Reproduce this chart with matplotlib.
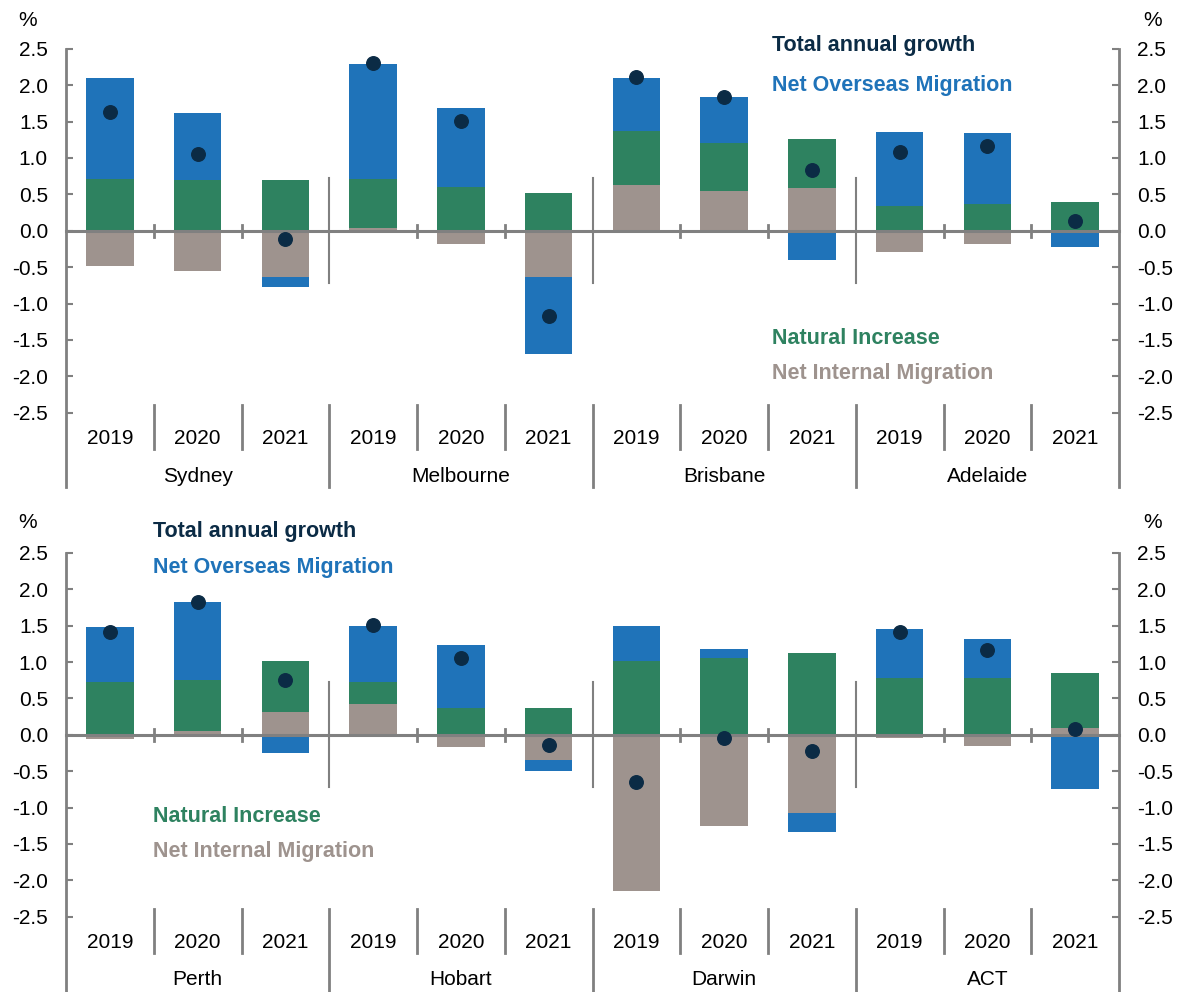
import matplotlib
matplotlib.use("Agg")
import matplotlib.pyplot as plt
import numpy as np

plt.rcParams['font.family'] = ['Liberation Sans', 'DejaVu Sans']

years = ["2019", "2020", "2021"]
cities_top = ["Sydney", "Melbourne", "Brisbane", "Adelaide"]
cities_bottom = ["Perth", "Hobart", "Darwin", "ACT"]

# components, % of population (order: city x year)
nim_top = [-0.48, -0.56, -0.64, 0.04, -0.18, -0.64, 0.63, 0.55, 0.58, -0.29, -0.18, 0.0]
ni_top = [0.71, 0.69, 0.69, 0.67, 0.60, 0.52, 0.74, 0.66, 0.68, 0.34, 0.36, 0.39]
nom_top = [1.39, 0.92, -0.13, 1.58, 1.09, -1.06, 0.73, 0.62, -0.40, 1.02, 0.98, -0.23]
total_top = [1.63, 1.05, -0.12, 2.31, 1.51, -1.17, 2.11, 1.84, 0.84, 1.08, 1.16, 0.13]

nim_bottom = [-0.06, 0.05, 0.31, 0.42, -0.17, -0.34, -2.15, -1.25, -1.07, -0.04, -0.15, 0.10]
ni_bottom = [0.72, 0.70, 0.70, 0.30, 0.37, 0.37, 1.02, 1.05, 1.13, 0.78, 0.78, 0.75]
nom_bottom = [0.76, 1.08, -0.25, 0.78, 0.86, -0.16, 0.48, 0.13, -0.27, 0.67, 0.54, -0.74]
total_bottom = [1.41, 1.82, 0.76, 1.51, 1.06, -0.14, -0.65, -0.05, -0.22, 1.41, 1.17, 0.08]

C_NOM = "#1f73b9"
C_NI = "#2e8260"
C_NIM = "#9e938e"
C_TOT = "#0b2b45"
C_AX = "#808080"

W, H = 1184, 992
FS = 15


def fx(px):
    return px / W


def fy(py):
    return 1 - py / H


def draw_panel(ax, cities, nim, ni, nom, total):
    n = len(total)
    x = np.arange(n)
    pos = np.zeros(n)
    neg = np.zeros(n)
    for vals, c in [(nim, C_NIM), (ni, C_NI), (nom, C_NOM)]:
        v = np.asarray(vals, dtype=float)
        bottom = np.where(v >= 0, pos, neg)
        ax.bar(x, v, 0.54, bottom=bottom, color=c, edgecolor="none", zorder=2)
        pos += np.clip(v, 0, None)
        neg += np.clip(v, None, 0)
    ax.scatter(x, total, s=95, color=C_TOT, zorder=5)

    ax.set_xlim(-0.5, n - 0.5)
    ax.set_ylim(-2.5, 2.5)
    for s in ax.spines.values():
        s.set_visible(False)
    ax.set_xticks([])
    ticks = np.arange(-2.5, 2.51, 0.5)
    ax.set_yticks(ticks)
    ax.set_yticklabels([f"{t:.1f}" for t in ticks])
    ax.tick_params(axis="y", direction="in", length=5, width=1.5, color=C_AX,
                   left=True, right=True, labelleft=True, labelright=True,
                   labelsize=FS, pad=13)

    lk = dict(color=C_AX, clip_on=False, zorder=3)
    # zero line and axes
    ax.plot([-0.5, n - 0.5], [0, 0], lw=2.2, **lk)
    ax.plot([-0.5, -0.5], [2.5, -3.52], lw=2, **lk)
    ax.plot([n - 0.5, n - 0.5], [2.5, -3.52], lw=2, **lk)
    for b in np.arange(0.5, n - 1, 1.0):
        if int(b + 0.5) % 3 == 0:
            ax.plot([b, b], [0.72, -0.72], lw=1.5, **lk)
            ax.plot([b, b], [-2.39, -3.52], lw=2, **lk)
        else:
            ax.plot([b, b], [0.08, -0.08], lw=2, **lk)
            ax.plot([b, b], [-2.39, -3.0], lw=2, **lk)
    for i in range(n):
        ax.text(i, -2.85, years[i % 3], ha="center", va="center",
                fontsize=FS, clip_on=False)
    for j, c in enumerate(cities):
        ax.text(3 * j + 1, -3.37, c, ha="center", va="center",
                fontsize=FS, clip_on=False)


fig = plt.figure(figsize=(W / 100, H / 100), dpi=100)

ax1 = fig.add_axes([fx(66), fy(412.7), fx(1119) - fx(66), (412.7 - 48.7) / H])
draw_panel(ax1, cities_top, nim_top, ni_top, nom_top, total_top)

ax2 = fig.add_axes([fx(66), fy(916.7), fx(1119) - fx(66), (916.7 - 553) / H])
draw_panel(ax2, cities_bottom, nim_bottom, ni_bottom, nom_bottom, total_bottom)

# % labels
for py in (20, 523):
    fig.text(fx(28), fy(py), "%", ha="center", va="center", fontsize=FS)
    fig.text(fx(1153), fy(py), "%", ha="center", va="center", fontsize=FS)

lab = dict(ha="left", va="center", fontsize=15.5, fontweight="bold")
fig.text(fx(772), fy(45), "Total annual growth", color=C_TOT, **lab)
fig.text(fx(772), fy(86), "Net Overseas Migration", color=C_NOM, **lab)
fig.text(fx(772), fy(338), "Natural Increase", color=C_NI, **lab)
fig.text(fx(772), fy(373), "Net Internal Migration", color=C_NIM, **lab)

fig.text(fx(153), fy(532), "Total annual growth", color=C_TOT, **lab)
fig.text(fx(153), fy(567), "Net Overseas Migration", color=C_NOM, **lab)
fig.text(fx(153), fy(817), "Natural Increase", color=C_NI, **lab)
fig.text(fx(153), fy(852), "Net Internal Migration", color=C_NIM, **lab)

fig.savefig("out.png", dpi=100)
